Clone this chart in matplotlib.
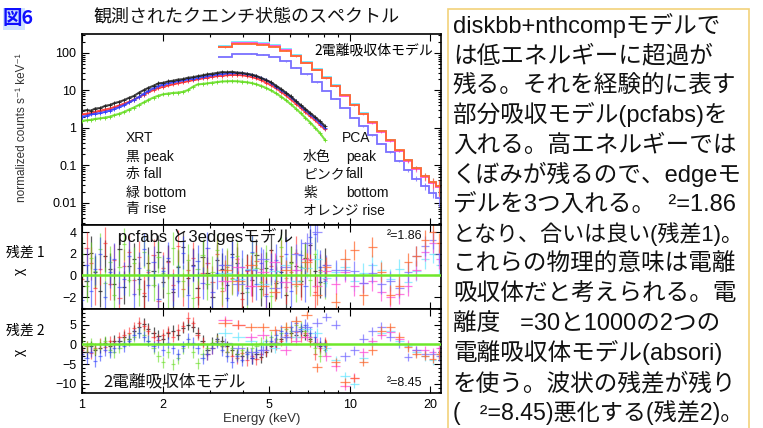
import numpy as np
import matplotlib
matplotlib.use("Agg")
import matplotlib.pyplot as plt
from matplotlib.ticker import FixedLocator, FixedFormatter, MultipleLocator, NullFormatter
from matplotlib.patches import Rectangle

plt.rcParams['font.family'] = ['Liberation Sans', 'DejaVu Sans', 'Noto Sans CJK JP']
plt.rcParams['axes.unicode_minus'] = True

# ---------------- data ----------------
E_xrt = [1.00, 1.04, 1.08, 1.12, 1.17, 1.22, 1.27, 1.32, 1.38, 1.44,
         1.50, 1.56, 1.63, 1.70, 1.77, 1.85, 1.93, 2.01, 2.10, 2.19,
         2.28, 2.38, 2.48, 2.59, 2.70, 2.82, 2.94, 3.07, 3.20, 3.34,
         3.48, 3.63, 3.79, 3.95, 4.12, 4.30, 4.48, 4.67, 4.87, 5.08,
         5.30, 5.53, 5.77, 6.02, 6.28, 6.55, 6.83, 7.12, 7.43, 7.75,
         8.08]

xrt_black = [2.8, 3.0, 2.9, 3.3, 3.4, 3.9, 4.1, 4.6, 5.0, 5.6,
             6.4, 7.1, 8.7, 10.2, 11.8, 13.4, 15.5, 16.0, 17.5, 18.2,
             19.5, 20.0, 21.8, 22.5, 24.0, 25.3, 27.0, 28.0, 29.5, 31.0,
             30.5, 31.5, 30.0, 29.5, 28.0, 26.5, 24.5, 21.5, 19.0, 16.5,
             13.5, 11.0, 8.8, 7.0, 5.3, 4.1, 3.2, 2.5, 1.95, 1.5,
             1.12]
xrt_red = [2.3, 2.4, 2.5, 2.7, 2.9, 3.1, 3.3, 3.6, 4.0, 4.5,
           5.0, 5.7, 6.6, 7.8, 9.0, 10.3, 11.7, 12.6, 13.6, 14.6,
           15.6, 16.6, 17.6, 18.8, 19.8, 21.0, 22.2, 23.3, 24.2, 25.0,
           25.6, 26.0, 26.0, 25.5, 24.5, 23.0, 21.0, 18.8, 16.2, 13.8,
           11.5, 9.3, 7.4, 5.8, 4.5, 3.5, 2.65, 2.05, 1.6, 1.2,
           0.92]
xrt_green = [1.55, 1.6, 1.65, 1.75, 1.8, 1.9, 2.0, 2.2, 2.4, 2.7,
             3.1, 3.5, 4.1, 4.8, 5.6, 6.5, 7.3, 7.9, 8.3, 8.6,
             8.8, 9.2, 10.2, 12.5, 14.5, 15.0, 15.5, 16.2, 16.8, 17.4,
             17.6, 17.8, 17.6, 17.2, 16.6, 15.8, 14.6, 13.2, 11.7, 10.0,
             8.4, 6.9, 5.5, 4.3, 3.3, 2.5, 1.85, 1.4, 1.0, 0.72,
             0.48]
xrt_blue = [2.0, 2.1, 2.3, 2.4, 2.5, 2.7, 2.9, 3.2, 3.6, 4.1,
            4.8, 5.6, 6.7, 8.2, 9.8, 11.5, 13.2, 14.4, 15.5, 16.5,
            17.6, 18.6, 19.7, 20.8, 22.0, 23.2, 24.5, 25.6, 26.8, 27.8,
            28.5, 29.0, 29.0, 28.5, 27.3, 25.8, 23.8, 21.5, 18.8, 16.0,
            12.6, 10.4, 8.4, 6.6, 5.1, 3.9, 3.0, 2.3, 1.8, 1.35,
            1.0]

pca_edges = [3.23, 3.64, 4.05, 4.5, 5.0, 5.5, 6.05, 6.6, 7.2, 7.85, 8.5, 9.2,
             10.0, 10.8, 11.7, 12.6, 13.6, 14.7, 15.9, 17.1, 18.4, 19.8, 21.0, 22.2]
pca_cyan = [157, 194, 198, 185, 161, 127, 89, 59, 37.5, 22.5, 13.9, 7.8,
            4.3, 2.45, 1.43, 0.82, 0.47, 0.25, 0.14, 0.085, 0.051, 0.036, 0.027]
pca_pink = [147, 180, 184, 172, 150, 118, 83, 55, 35, 21, 13, 7.3,
            4.0, 2.3, 1.35, 0.77, 0.45, 0.24, 0.13, 0.08, 0.048, 0.034, 0.026]
pca_purple = [78, 95, 96, 90, 78, 60, 41, 27, 16.5, 9.8, 6.0, 3.4,
              1.9, 1.1, 0.65, 0.38, 0.23, 0.13, 0.074, 0.045, 0.028, 0.019, 0.014]
pca_orange = [141, 173, 177, 166, 145, 115, 81, 54, 35, 21.5, 13.4, 7.6,
              4.2, 2.4, 1.42, 0.82, 0.48, 0.26, 0.14, 0.086, 0.052, 0.036, 0.028]
pca_relerr = [0.02, 0.02, 0.02, 0.02, 0.02, 0.02, 0.02, 0.02, 0.02, 0.02, 0.02, 0.02,
              0.02, 0.03, 0.03, 0.03, 0.04, 0.06, 0.09, 0.14, 0.2, 0.3, 0.45]

# residuals, panel 1 (pcfabs + 3 edges)
r1_black = [1.2, -0.5, 2.1, 0.3, -1.4, 1.8, 0.6, -0.8, 2.4, -1.1, 0.9, 1.5, -0.3, -1.9, 1.1, 0.4, 2.2,
            -0.6, 1.3, -1.5, 0.8, 2.6, -0.2, 1.0, -1.2, 1.7, 0.2, -2.0, 1.4, 0.6, -0.9, 2.0, 1.1, -1.6,
            0.5, -0.4, 1.9, -1.3, 0.7, 2.3, -0.7, 0.3, -1.8, 1.2, 0.9, -0.5, 1.6, 2.8, 0.4, -0.6, 1.0]
r1_red = [-0.3, 2.5, 1.1, -1.2, 0.6, 3.0, -0.8, 1.4, -2.1, 0.9, 2.2, -0.4, 1.7, -1.6, 0.3, 1.9, -2.4,
          0.7, 1.2, -0.9, 2.7, -1.3, 0.5, 1.6, -2.0, 0.2, 1.1, -0.6, 2.0, -1.4, 0.8, -0.2, 1.5, -2.2,
          0.4, -1.0, 1.3, 0.6, -1.7, 0.9, -0.5, 1.8, -1.1, 0.3, 2.1, -0.8, 0.7, 1.4, -1.5, 0.5, -0.3]
r1_green = [2.0, -1.0, 1.6, 0.4, 2.4, -0.7, 1.2, -1.8, 0.8, 2.9, -0.4, 1.1, -1.3, 2.2, 0.5, -0.9, 1.7,
            0.2, -1.6, 2.5, 0.9, -0.5, 1.4, -2.1, 0.6, 1.9, -0.8, 0.3, 2.3, -1.2, 1.0, -0.3, 1.8, 0.1,
            -1.5, 2.1, 0.7, -0.6, 1.3, -1.9, 0.4, 2.6, -0.2, 1.1, -1.0, 0.8, 1.5, -0.4, 2.0, 0.3, -0.7]
r1_blue = [-2.3, 1.0, -1.4, 0.6, 2.0, -2.0, 0.3, 1.5, -1.1, -0.3, 1.8, -1.7, 0.7, 2.4, -0.9, 1.2, -2.2,
           0.4, 1.6, -1.3, -0.5, 2.1, -1.8, 0.9, 1.3, -0.7, 2.5, -1.5, 0.2, 1.0, -2.1, 1.7, -0.4, 0.8,
           -1.2, 2.2, -0.8, 1.1, -1.9, 0.6, 1.4, -0.6, 2.0, -1.4, 0.5, 1.9, -1.0, 3.5, 3.8, 0.8, -0.5]
r1_cyan = [0.2, -0.3, 0.6, -0.8, 0.4, 1.0, -0.5, 0.7, 1.5, -0.2, 0.3, 0.8,
           -0.5, 0.2, 1.0, 0.5, -0.3, 0.6, -0.6, 0.4, 1.5, 2.0, 1.0]
r1_pink = [-0.5, 0.8, -1.0, 0.3, 1.2, -0.6, 0.5, 1.5, -1.0, 0.4, -0.8, 0.3,
           -1.0, -0.7, -0.5, -1.5, -2.0, -1.7, -1.0, 0.5, 2.2, 3.0, 1.5]
r1_purple = [1.0, -0.8, 0.5, 1.5, -1.2, 0.8, 2.0, 3.0, 4.0, 1.0, 0.5, 0.5,
             0.4, -0.7, 0.2, -0.8, -0.5, -1.2, 0.3, 1.8, 2.7, 3.3, 2.0]
r1_orange = [0.5, -0.5, 1.0, -1.0, -1.5, 0.5, -0.8, 1.2, -1.8, 0.8, -2.5, 1.5,
             2.3, -1.8, 2.6, 0.3, -1.8, -1.0, 1.2, 1.8, 3.3, 4.0, 3.0]

# residuals, panel 2 (two ionized absorbers)
r2_black = [-1.0, -2.0, -0.5, -1.5, -0.8, 0.5, -0.3, 1.0, 0.8, 2.0, 1.5, 3.5, 4.5, 5.2, 4.0, 3.0, 2.2,
            1.5, 2.8, 3.5, 2.5, 4.2, 5.0, 4.5, 3.0, 1.0, -1.5, 0.5, 1.5, 0.8, -0.5, -1.5, -2.5, -3.0,
            -2.0, -3.5, -2.5, -3.2, -1.8, -0.5, 0.5, 1.5, 2.0, 3.0, 2.5, 3.5, 2.5, 1.5, 0.5, -0.5, 0.0]
r2_red = [-1.5, -0.5, -2.2, -1.0, 0.2, -0.6, 0.8, 0.3, 1.8, 2.5, 3.0, 4.2, 5.5, 4.8, 3.5, 2.0, 1.2,
          2.5, 3.2, 2.0, 3.8, 4.6, 6.8, 5.5, 2.5, 0.5, -2.5, -1.0, 1.0, -0.5, -1.8, -2.8, -3.5, -2.2,
          -4.0, -3.0, -3.8, -2.5, -1.5, 0.3, 0.0, 1.0, 2.5, 1.8, 3.2, 2.0, 3.0, 0.8, -2.5, -1.0, 0.5]
r2_green = [1.0, -0.5, 0.3, -1.2, 0.0, 0.8, -1.5, -2.0, -0.8, 0.5, 1.5, 2.0, 3.0, 2.5, 1.0, -1.0, -3.0,
            -4.5, -2.0, -5.0, -3.5, -1.0, 0.5, -2.0, -4.8, -2.5, -1.0, 0.0, 1.0, -0.5, -2.0, -1.0, -2.5,
            -1.5, -2.0, -1.0, -0.5, 0.5, 1.0, 2.0, 1.5, 3.0, 4.0, 3.5, 5.0, 4.5, 3.5, 2.0, -1.0, -3.0, -1.5]
r2_blue = [-2.5, -3.5, -1.8, -4.2, -2.8, -1.5, -2.0, -0.8, 0.2, -0.5, 1.0, 2.5, 3.0, 2.0, 1.0, -0.5, 0.5,
           -1.5, 0.5, -1.0, -2.5, -0.5, 1.5, 0.5, -1.0, -3.5, -2.5, -1.0, 0.5, -1.5, -3.0, -4.5, -3.0,
           -4.0, -2.5, -3.5, -2.0, -1.5, 0.0, 1.0, 2.5, 3.5, 3.0, 4.5, 5.5, 4.0, 5.0, 3.0, 2.0, 0.5, -0.5]
r2_cyan = [3.0, 2.0, 1.0, 0.0, -1.0, 0.5, 2.0, 4.0, 3.0, -1.0, -4.0, -8.0,
           -10.0, -3.5, 0.5, 3.0, 3.5, 1.0, -0.5, -2.0, -3.0, -4.0, -2.5]
r2_pink = [6.1, 5.0, 1.9, 2.5, 0.5, -1.5, 1.0, 2.0, 0.5, -3.0, -5.5, -10.4,
           -8.4, -2.0, 0.8, 2.5, 3.1, 1.5, 0.0, -1.5, -1.5, -2.0, -1.0]
r2_purple = [0.5, -1.0, -2.0, -1.5, 0.5, 2.0, 3.5, 4.5, 5.5, 7.0, 5.0, -3.0,
             -1.5, 1.5, 3.3, 4.5, 2.0, 0.2, -3.2, -1.5, -2.4, -2.5, -3.0]
r2_orange = [5.5, 5.0, 4.4, 4.4, 3.6, 4.5, 6.0, 7.5, -5.8, 0.0, -4.5, -9.6,
             -8.5, -4.4, -1.5, 3.5, 4.4, 2.0, -0.7, -2.4, -2.8, -3.6, -2.5]

x_ticks = [1, 2, 5, 10, 20]
x_ticklabels = ['1', '2', '5', '10', '20']
x_minor = [3, 4, 6, 7, 8, 9]
y0_ticks = [0.01, 0.1, 1, 10, 100]
y0_ticklabels = ['0.01', '0.1', '1', '10', '100']
y1_ticks = [-2, 0, 2, 4]
y1_ticklabels = ['\u22122', '0', '2', '4']
y2_ticks = [-10, -5, 0, 5]
y2_ticklabels = ['\u221210', '\u22125', '0', '5']

text_lines = [
    "diskbb+nthcompモデルで",
    "は低エネルギーに超過が",
    "残る。それを経験的に表す",
    "部分吸収モデル(pcfabs)を",
    "入れる。高エネルギーでは",
    "くぼみが残るので、edgeモ",
    "デルを3つ入れる。  ²=1.86",
    "となり、合いは良い(残差1)。",
    "これらの物理的意味は電離",
    "吸収体だと考えられる。電",
    "離度   =30と1000の2つの",
    "電離吸収体モデル(absori)",
    "を使う。波状の残差が残り",
    "(   ²=8.45)悪化する(残差2)。",
]

# ---------------- colours ----------------
C_BLACK = '#222222'
C_RED = '#ff2a2a'
C_GREEN = '#66dd22'
C_BLUE = '#2f3fff'
C_CYAN = '#6fe8ff'
C_PINK = '#ff4fd8'
C_PURPLE = '#7a70ff'
C_ORANGE = '#ff6a30'

W, H = 763, 428
fig = plt.figure(figsize=(W / 100, H / 100), dpi=100)
fig.patch.set_facecolor('white')


def fx(px):
    return px / W


def fy(py):
    return 1 - py / H


L, R = 82, 441
ax0 = fig.add_axes([fx(L), fy(225), fx(R) - fx(L), (225 - 34) / H])
ax1 = fig.add_axes([fx(L), fy(309), fx(R) - fx(L), (309 - 225) / H], sharex=ax0)
ax2 = fig.add_axes([fx(L), fy(393), fx(R) - fx(L), (393 - 309) / H], sharex=ax0)

E = np.array(E_xrt)
edges = np.array(pca_edges)
pca_c = np.sqrt(edges[:-1] * edges[1:])
pca_xlo = pca_c - edges[:-1]
pca_xhi = edges[1:] - pca_c

# ---------------- main spectrum ----------------
for vals, col in [(xrt_green, C_GREEN), (xrt_red, C_RED), (xrt_blue, C_BLUE), (xrt_black, C_BLACK)]:
    ax0.plot(E, vals, color=col, lw=1.5, alpha=0.85, zorder=3)
    ax0.plot(E, vals, ls='none', marker='+', ms=3, mew=0.6, color=col, zorder=3)

for vals, col in [(pca_purple, C_PURPLE), (pca_cyan, C_CYAN), (pca_pink, C_PINK), (pca_orange, C_ORANGE)]:
    ax0.stairs(vals, edges, baseline=None, color=col, lw=1.3, zorder=2)
    v = np.array(vals)
    ax0.errorbar(pca_c, v, yerr=v * np.array(pca_relerr), fmt='none', ecolor=col,
                 elinewidth=0.8, alpha=0.8, zorder=2)

ax0.set_xscale('log')
ax0.set_yscale('log')
ax0.set_xlim(1, 21.9)
ax0.set_ylim(0.00259, 321)
ax0.yaxis.set_major_locator(FixedLocator(y0_ticks))
ax0.yaxis.set_major_formatter(FixedFormatter(y0_ticklabels))
ax0.yaxis.set_minor_locator(FixedLocator([m * 10.0 ** k for k in range(-3, 3) for m in range(2, 10)]))
ax0.yaxis.set_minor_formatter(NullFormatter())

# ---------------- residual panels ----------------
xrt_res = [(C_BLACK, 0.75), (C_RED, 0.6), (C_GREEN, 0.6), (C_BLUE, 0.6)]
for ax, res_x, res_p, yerr_x, yerr_p in [
        (ax1, [r1_black, r1_red, r1_green, r1_blue], [r1_cyan, r1_pink, r1_purple, r1_orange], 1.5, 0.9),
        (ax2, [r2_black, r2_red, r2_green, r2_blue], [r2_cyan, r2_pink, r2_purple, r2_orange], 1.4, 1.1)]:
    for (col, a), vals in zip(xrt_res, res_x):
        ax.errorbar(E, vals, xerr=E * 0.018, yerr=yerr_x, fmt='none', ecolor=col,
                    elinewidth=0.9, alpha=a, zorder=2)
    for col, vals in zip([C_CYAN, C_PINK, C_PURPLE, C_ORANGE], res_p):
        ax.errorbar(pca_c, vals, xerr=[pca_xlo, pca_xhi], yerr=yerr_p, fmt='none', ecolor=col,
                    elinewidth=0.9, alpha=0.75, zorder=2)
    ax.axhline(0, color='#6ee82a', lw=1.8, zorder=5)

ax1.set_ylim(-3.1, 4.65)
ax1.yaxis.set_major_locator(FixedLocator(y1_ticks))
ax1.yaxis.set_major_formatter(FixedFormatter(y1_ticklabels))
ax1.yaxis.set_minor_locator(MultipleLocator(1))
ax2.set_ylim(-12.3, 9.0)
ax2.yaxis.set_major_locator(FixedLocator(y2_ticks))
ax2.yaxis.set_major_formatter(FixedFormatter(y2_ticklabels))
ax2.yaxis.set_minor_locator(MultipleLocator(1))

for ax in (ax0, ax1, ax2):
    ax.xaxis.set_major_locator(FixedLocator(x_ticks))
    ax.xaxis.set_minor_locator(FixedLocator(x_minor))
    ax.xaxis.set_minor_formatter(NullFormatter())
    ax.tick_params(which='both', direction='in', top=True, right=True, width=0.8,
                   labelsize=9, pad=4)
    ax.tick_params(which='major', length=5)
    ax.tick_params(which='minor', length=2.5)
    for s in ax.spines.values():
        s.set_linewidth(1.2)
ax0.tick_params(labelbottom=False)
ax1.tick_params(labelbottom=False)
ax2.xaxis.set_major_formatter(FixedFormatter(x_ticklabels))

# ---------------- texts ----------------
JP = ['Noto Sans CJK JP', 'DejaVu Sans']
fig.patches.append(Rectangle((fx(3), fy(30)), fx(22), 22 / H, transform=fig.transFigure,
                             facecolor='#cfe3ff', edgecolor='none', zorder=0))
fig.text(fx(3), fy(18), '図6', color='#1010ff', fontsize=14, fontweight='bold',
         family=JP, va='center', ha='left')
fig.text(fx(246), fy(17), '観測されたクエンチ状態のスペクトル', fontsize=13, family=JP,
         va='center', ha='center', color='#111111')

fig.text(fx(22), fy(128), 'normalized counts s\u207b\u00b9 keV\u207b\u00b9', rotation=90,
         fontsize=8.5, va='center', ha='center', color='#333333')
fig.text(fx(25), fy(253), '残差 1', fontsize=10, family=JP, va='center', ha='center')
fig.text(fx(20), fy(271), 'χ', fontsize=10, rotation=90, va='center', ha='center')
fig.text(fx(25), fy(331), '残差 2', fontsize=10, family=JP, va='center', ha='center')
fig.text(fx(20), fy(352), 'χ', fontsize=10, rotation=90, va='center', ha='center')
fig.text(fx(262), fy(419), 'Energy (keV)', fontsize=9.5, va='center', ha='center', color='#333333')

leg_fs = 10
for py, s in [(138, 'XRT'), (157, '黒 peak'), (174, '赤 fall'), (193, '緑 bottom'), (209, '青 rise')]:
    fig.text(fx(126), fy(py), s, fontsize=leg_fs, va='center', ha='left', color='#111111')
fig.text(fx(342), fy(138), 'PCA', fontsize=leg_fs, va='center', ha='left', color='#111111')
for py, a, b in [(157, '水色', 'peak'), (174, 'ピンク', 'fall'), (193, '紫', 'bottom')]:
    fig.text(fx(303), fy(py), a, fontsize=leg_fs, va='center', ha='left', color='#111111')
    fig.text(fx(346), fy(py), b, fontsize=leg_fs, va='center', ha='left', color='#111111')
fig.text(fx(303), fy(211), 'オレンジ rise', fontsize=leg_fs, va='center', ha='left', color='#111111')

fig.text(fx(433), fy(51), '2電離吸収体モデル', fontsize=10, family=JP, va='center', ha='right',
         bbox=dict(facecolor='white', edgecolor='none', pad=1), zorder=10)
fig.text(fx(118), fy(236), 'pcfabs と3edgesモデル', fontsize=12, va='center', ha='left',
         color='#111111', zorder=10)
fig.text(fx(387), fy(236), '²=1.86', fontsize=9, va='center', ha='left', color='#111111', zorder=10)
fig.text(fx(103), fy(382), '2電離吸収体モデル', fontsize=12, family=JP, va='center', ha='left',
         color='#111111', zorder=10)
fig.text(fx(387), fy(383), '²=8.45', fontsize=9, va='center', ha='left', color='#111111', zorder=10)

# right-hand explanation box
fig.patches.append(Rectangle((fx(448), fy(440)), fx(749) - fx(448), 431 / H, transform=fig.transFigure,
                             facecolor='none', edgecolor='#f2d27a', lw=1.2))

BOX_FS = 17.0
BOX_FAM = ['Liberation Sans', 'Noto Sans CJK JP', 'DejaVu Sans']
renderer = fig.canvas.get_renderer()
box_x0, box_xmax = 453, 745
for i, line in enumerate(text_lines):
    t = fig.text(fx(box_x0), fy(25 + i * 29.75 + 8), line, fontsize=BOX_FS, family=BOX_FAM,
                 va='baseline', ha='left', color='#111111')
    w = t.get_window_extent(renderer).width
    if w > box_xmax - box_x0:
        t.set_fontsize(BOX_FS * (box_xmax - box_x0) / w)

fig.savefig('out.png', dpi=100)
